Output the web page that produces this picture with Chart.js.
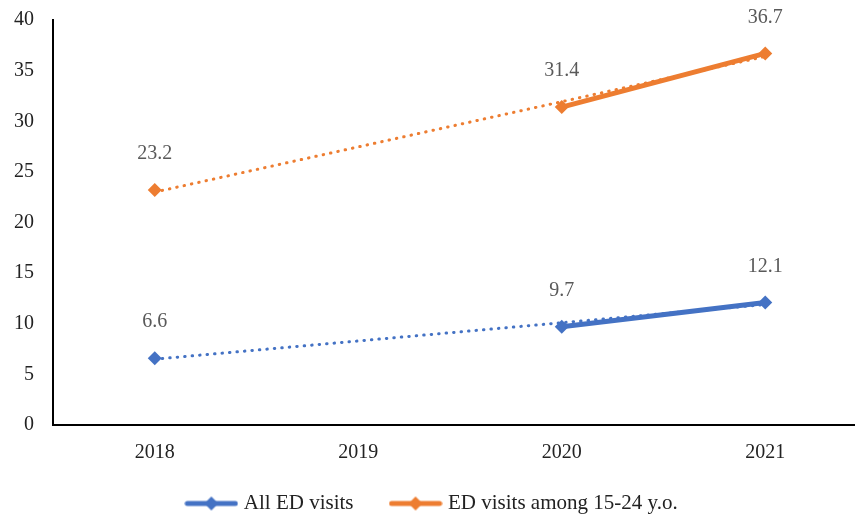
<!DOCTYPE html>
<html>
<head>
<meta charset="utf-8">
<script src="https://cdn.jsdelivr.net/npm/chart.js@4.4.0/dist/chart.umd.min.js"></script>
<style>
  html, body { margin: 0; padding: 0; background: #fff; overflow: hidden; }
  #wrap { width: 874px; height: 517px; }
</style>
</head>
<body>
<div id="wrap"><canvas id="edChart"></canvas></div>
<script>
// Years on the x axis (2019 has no data)
var years = ['2018', '2019', '2020', '2021'];

// ED visit rates
var allVisits = [6.6, null, 9.7, 12.1];
var youthVisits = [23.2, null, 31.4, 36.7];

// Linear trend lines, start and end values
var allTrend = [6.5, null, null, 11.9];
var youthTrend = [23.0, null, null, 36.4];

var yTicks = [0, 5, 10, 15, 20, 25, 30, 35, 40];

var blue = '#4472C4';
var orange = '#ED7D31';
var serif = "'Liberation Serif', 'DejaVu Serif', serif";

// Legend swatch: short thick line with a diamond in the middle
function makeSwatch(color) {
    var c = document.createElement('canvas');
    c.width = 54;
    c.height = 16;
    var g = c.getContext('2d');
    g.strokeStyle = color;
    g.lineWidth = 5;
    g.lineCap = 'round';
    g.beginPath();
    g.moveTo(3, 8);
    g.lineTo(51, 8);
    g.stroke();
    g.fillStyle = color;
    g.beginPath();
    g.moveTo(27, 1);
    g.lineTo(34, 8);
    g.lineTo(27, 15);
    g.lineTo(20, 8);
    g.closePath();
    g.fill();
    return c;
}
var swatches = [makeSwatch(blue), makeSwatch(orange)];

// Value labels above the data points
var valueLabels = {
    id: 'valueLabels',
    afterDatasetsDraw: function (chart) {
        var ctx = chart.ctx;
        ctx.save();
        ctx.font = '20px ' + serif;
        ctx.fillStyle = '#595959';
        ctx.textAlign = 'center';
        ctx.textBaseline = 'middle';
        [0, 1].forEach(function (di) {
            var meta = chart.getDatasetMeta(di);
            var data = chart.data.datasets[di].data;
            meta.data.forEach(function (pt, i) {
                if (data[i] === null) return;
                ctx.fillText(data[i].toFixed(1), pt.x, pt.y - 36);
            });
        });
        ctx.restore();
    }
};

// Fixed legend band height
var legendHeight = {
    id: 'legendHeight',
    beforeInit: function (chart) {
        var legend = chart.legend;
        var origFit = legend.fit;
        legend.fit = function () {
            origFit.call(this);
            this.height = 64;
        };
    }
};

var ctx = document.getElementById('edChart').getContext('2d');
var edChart = new Chart(ctx, {
    type: 'line',
    data: {
        labels: years,
        datasets: [{
            label: 'All ED visits',
            data: allVisits,
            borderColor: blue,
            backgroundColor: blue,
            borderWidth: 5,
            pointStyle: 'rectRot',
            pointRadius: 7,
            pointBorderWidth: 0,
            spanGaps: false,
            order: 2
        }, {
            label: 'ED visits among 15-24 y.o.',
            data: youthVisits,
            borderColor: orange,
            backgroundColor: orange,
            borderWidth: 5,
            pointStyle: 'rectRot',
            pointRadius: 7,
            pointBorderWidth: 0,
            spanGaps: false,
            order: 2
        }, {
            label: 'trend1',
            data: allTrend,
            borderColor: blue,
            borderWidth: 3,
            borderDash: [0.5, 7],
            borderCapStyle: 'round',
            pointRadius: 0,
            spanGaps: true,
            order: 1
        }, {
            label: 'trend2',
            data: youthTrend,
            borderColor: orange,
            borderWidth: 3,
            borderDash: [0.5, 7],
            borderCapStyle: 'round',
            pointRadius: 0,
            spanGaps: true,
            order: 1
        }]
    },
    options: {
        responsive: true,
        maintainAspectRatio: false,
        animation: false,
        layout: {
            padding: { top: 20, left: -5, right: 2, bottom: 0 }
        },
        scales: {
            x: {
                offset: true,
                grid: { display: false, drawTicks: false },
                border: { display: true, color: '#000', width: 2 },
                ticks: {
                    color: '#222',
                    padding: 16,
                    font: { family: serif, size: 20 }
                },
                afterFit: function (axis) {
                    // short axis box; let the year labels spill below it
                    axis.height = 28;
                    axis._computeLabelArea = function () { return undefined; };
                }
            },
            y: {
                min: 0,
                max: 40,
                afterBuildTicks: function (axis) {
                    axis.ticks = yTicks.map(function (v) { return { value: v }; });
                },
                afterFit: function (axis) {
                    axis.paddingTop = 0;
                    axis.paddingBottom = 0;
                },
                grid: { display: false, drawTicks: false },
                border: { display: true, color: '#000', width: 2 },
                ticks: {
                    color: '#222',
                    padding: 19,
                    font: { family: serif, size: 20 }
                }
            }
        },
        plugins: {
            legend: {
                position: 'bottom',
                labels: {
                    usePointStyle: true,
                    pointStyleWidth: 44,
                    padding: 40,
                    color: '#222',
                    font: { family: serif, size: 21 },
                    filter: function (item) { return item.datasetIndex < 2; },
                    generateLabels: function (chart) {
                        var items = Chart.defaults.plugins.legend.labels.generateLabels(chart);
                        items.forEach(function (item) {
                            if (item.datasetIndex < 2) item.pointStyle = swatches[item.datasetIndex];
                        });
                        return items;
                    }
                }
            },
            tooltip: { enabled: false }
        }
    },
    plugins: [valueLabels, legendHeight]
});
</script>
</body>
</html>
